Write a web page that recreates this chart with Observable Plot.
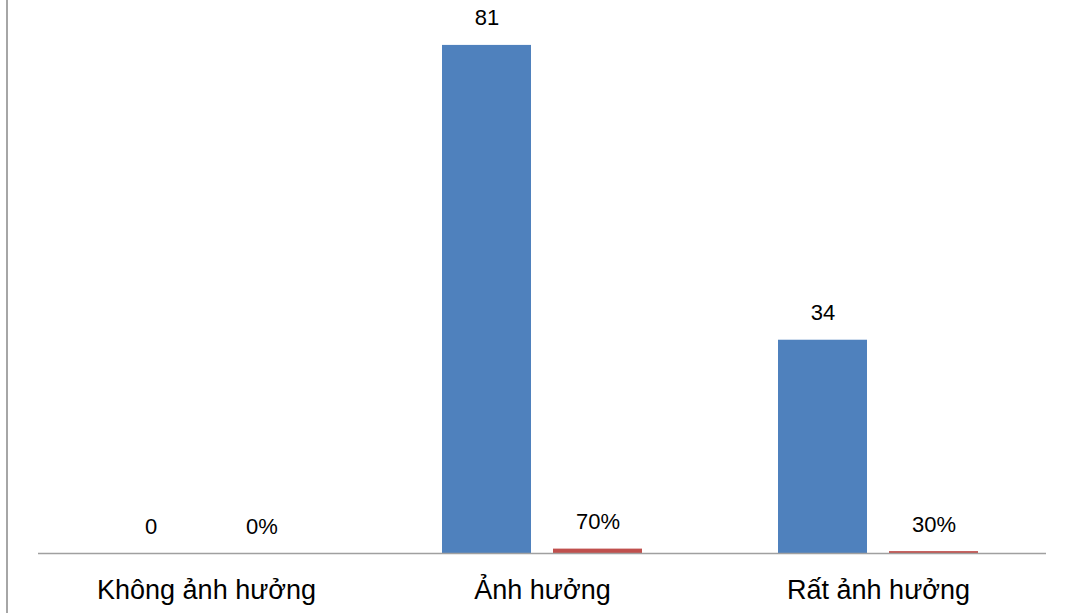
<!DOCTYPE html>
<html>
<head>
<meta charset="utf-8">
<script src="https://cdn.jsdelivr.net/npm/d3@7"></script>
<script src="https://cdn.jsdelivr.net/npm/@observablehq/plot@0.6"></script>
<style>
  html, body { margin: 0; padding: 0; background: #fff; }
  #wrap { position: relative; width: 1072px; height: 613px; overflow: hidden; }
  #frame { position: absolute; left: 6px; top: 0; width: 0; height: 613px; border-left: 2px solid #a6a6a6; }
  #chart { position: absolute; left: 0; top: 0; }
</style>
</head>
<body>
<div id="wrap"><div id="frame"></div><div id="chart"></div></div>
<script>
const categories = ["Không ảnh hưởng", "Ảnh hưởng", "Rất ảnh hưởng"];
const counts = [0, 81, 34];
const percents = [0, 0.70, 0.30];
const percentLabels = ["0%", "70%", "30%"];
const seriesNames = ["Số lượng", "Tỷ lệ"];
const seriesColors = ["#4F81BD", "#C0504D"];

const rows = [];
categories.forEach((c, i) => {
  rows.push({category: c, series: seriesNames[0], value: counts[i], label: String(counts[i])});
  rows.push({category: c, series: seriesNames[1], value: percents[i], label: percentLabels[i]});
});

const chart = Plot.plot({
  width: 1072,
  height: 613,
  marginLeft: 37,
  marginRight: 25,
  marginTop: 1,
  marginBottom: 60,
  style: {fontFamily: "'Liberation Sans', Arial, sans-serif", fontSize: "27px", color: "#000", background: "transparent"},
  fx: {domain: categories, paddingInner: 0, paddingOuter: 0},
  x: {domain: seriesNames, paddingInner: 22 / 112, paddingOuter: 0.601, axis: null},
  y: {domain: [0, 88], axis: null},
  color: {domain: seriesNames, range: seriesColors},
  marks: [
    Plot.barY(rows, {fx: "category", x: "series", y: "value", fill: "series"}),
    Plot.ruleY([0], {stroke: "#a0a0a0", strokeWidth: 1.5}),
    Plot.text(rows, {fx: "category", x: "series", y: "value", text: "label", dy: -27, fontSize: 22, fill: "#000"}),
    Plot.axisFx({anchor: "bottom", tickSize: 0, tickPadding: 26, label: null, fill: "#000"})
  ]
});
document.getElementById("chart").appendChild(chart);
</script>
</body>
</html>
